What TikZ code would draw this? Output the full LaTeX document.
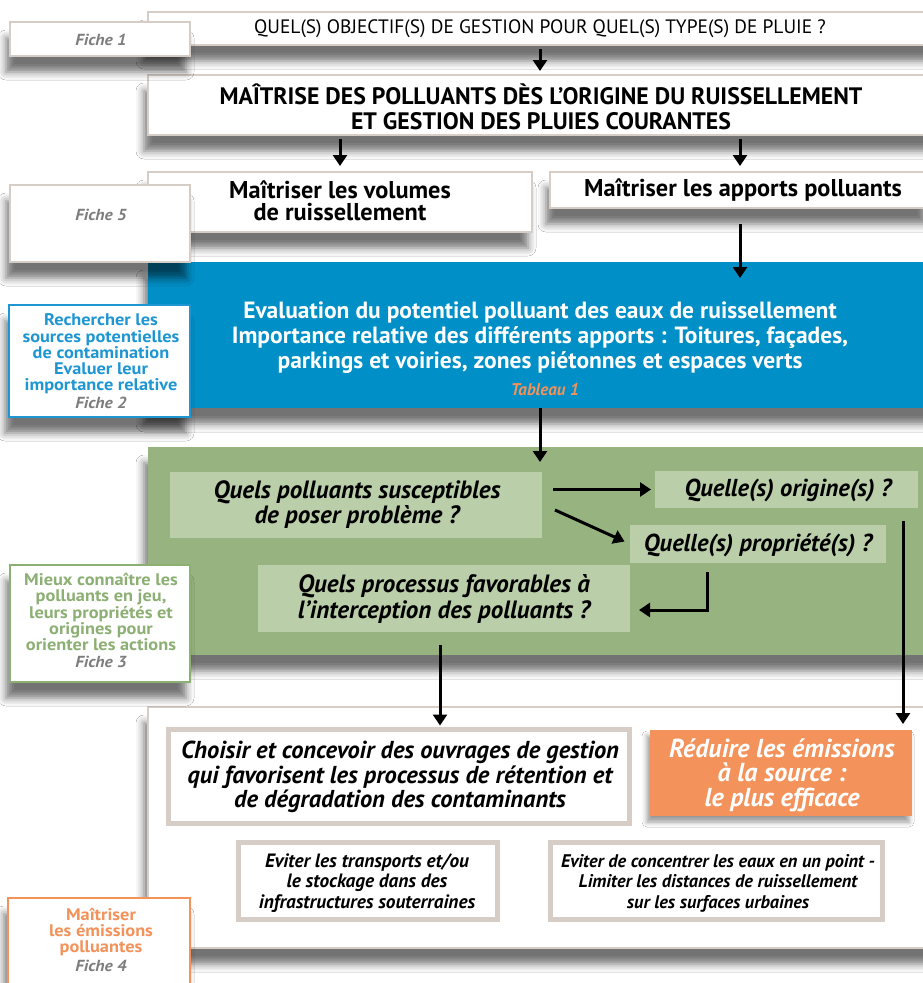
\documentclass[tikz,border=0pt]{standalone}
\usepackage{fontspec}
\setmainfont{PT Sans}
\newfontfamily\din{PT Sans}
\newfontfamily\dinw{PT Sans}[FakeStretch=1.09]
\usetikzlibrary{arrows.meta,shadows.blur}
\definecolor{bblue}{RGB}{0,143,198}
\definecolor{ggreen}{RGB}{151,179,128}
\definecolor{lgreen}{RGB}{186,206,169}
\definecolor{oorange}{RGB}{243,146,90}
\definecolor{bord}{RGB}{214,206,198}
\definecolor{fgray}{RGB}{125,125,125}
\definecolor{fblue}{RGB}{30,150,210}
\definecolor{fgreen}{RGB}{140,175,115}
\tikzset{
  shad/.style={blur shadow={shadow xshift=-4pt, shadow yshift=-16pt, shadow blur radius=8pt, shadow opacity=55}},
  box/.style={anchor=north west, inner sep=0pt, outer sep=0pt},
  wbox/.style={box, draw=bord, line width=1.5pt, fill=white, shad},
  fiche/.style={box, line width=1.5pt, fill=white, shad},
  qbox/.style={box, fill=lgreen},
  tbox/.style={box, draw=bord, line width=5pt, fill=white},
  txt/.style={align=center, inner sep=0pt, font=\din},
  ftxt/.style={align=center, inner sep=0pt, font=\dinw\bfseries\fontsize{16.8}{16.2}\selectfont},
  fnum/.style={align=center, inner sep=0pt, text=fgray, font=\dinw\bfseries\itshape\fontsize{16}{16}\selectfont},
  arr/.style={line width=3pt, -{Triangle[width=14pt,length=11pt]}},
}
\begin{document}
\begin{tikzpicture}[x=1pt,y=-1pt]
\useasboundingbox[fill=white] (0,0) rectangle (923,983);
% main boxes
\node[wbox, minimum width=790pt, minimum height=33pt] (top) at (148,12) {};
\node[wbox, minimum width=790pt, minimum height=60pt] (box2) at (148,75) {};
\node[wbox, minimum width=384pt, minimum height=60pt] (box3a) at (148,172) {};
\node[wbox, minimum width=380pt, minimum height=36pt] (box3b) at (550,172) {};
\node[box, fill=bblue, shad, minimum width=790pt, minimum height=146pt] (blue) at (148,262) {};
\node[box, fill=ggreen, shad, minimum width=790pt, minimum height=208pt] (green) at (148,447) {};
\node[box, draw=bord, line width=1.5pt, fill=white, shad, minimum width=790pt, minimum height=241pt] (bottom) at (148,707) {};
% green inner boxes
\node[qbox, minimum width=372pt, minimum height=66pt] (q1) at (170,472) {};
\node[qbox, minimum width=263pt, minimum height=37pt] (q2) at (655,471) {};
\node[qbox, minimum width=256pt, minimum height=38pt] (q3) at (630,525) {};
\node[qbox, minimum width=372pt, minimum height=67pt] (q4) at (258,565) {};
% bottom inner boxes
\node[tbox, minimum width=461pt, minimum height=94pt] (choisir) at (168.5,729.5) {};
\node[box, fill=oorange, blur shadow={shadow xshift=-3pt, shadow yshift=-6pt, shadow blur radius=5pt, shadow opacity=40}, minimum width=262pt, minimum height=86pt] (orange) at (650,730) {};
\node[tbox, minimum width=259pt, minimum height=77pt] (ev1) at (238.5,842.5) {};
\node[tbox, minimum width=332pt, minimum height=77pt] (ev2) at (550.5,842.5) {};
% fiche boxes
\node[fiche, draw=bord, minimum width=180pt, minimum height=34pt] (f1) at (10,22) {};
\node[fiche, draw=bord, minimum width=180pt, minimum height=77pt] (f5) at (10,185) {};
\node[fiche, draw=fblue, minimum width=181pt, minimum height=112pt] (f2) at (9,305) {};
\node[fiche, draw=fgreen, minimum width=180pt, minimum height=117pt] (f3) at (10,565) {};
\node[fiche, draw=oorange, minimum width=182pt, minimum height=100pt] (f4) at (8,898) {};
% texts
\node[txt, font=\din\fontsize{19.4}{22}\selectfont] (ttop) at (540,29) {QUEL(S) OBJECTIF(S) DE GESTION POUR QUEL(S) TYPE(S) DE PLUIE ?};
\node[txt, font=\din\bfseries\fontsize{23.8}{25}\selectfont] (tbox2) at (541,107) {MAÎTRISE DES POLLUANTS DÈS L’ORIGINE DU RUISSELLEMENT\\ET GESTION DES PLUIES COURANTES};
\node[txt, font=\din\bfseries\fontsize{24.3}{22}\selectfont] (tbox3a) at (340,201) {Maîtriser les volumes\\de ruissellement};
\node[txt, font=\din\bfseries\fontsize{24.3}{22}\selectfont] (tbox3b) at (743,190) {Maîtriser les apports polluants};
\node[txt, text=white, font=\din\bfseries\fontsize{23.5}{25}\selectfont] (tblue) at (540,338) {Evaluation du potentiel polluant des eaux de ruissellement\\Importance relative des différents apports : Toitures, façades,\\parkings et voiries, zones piétonnes et espaces verts};
\node[txt, text=oorange, font=\din\bfseries\itshape\fontsize{17}{18}\selectfont] (ttab) at (545,390) {Tableau 1};
\node[txt, font=\din\bfseries\itshape\fontsize{25}{25}\selectfont] (tq1) at (357,505) {Quels polluants susceptibles\\de poser problème ?};
\node[txt, font=\din\bfseries\itshape\fontsize{24.5}{25}\selectfont] (tq2) at (788,490) {Quelle(s) origine(s) ?};
\node[txt, font=\din\bfseries\itshape\fontsize{24.5}{25}\selectfont] (tq3) at (758,545) {Quelle(s) propriété(s) ?};
\node[txt, font=\din\bfseries\itshape\fontsize{25}{26}\selectfont] (tq4) at (444,599) {Quels processus favorables à\\l’interception des polluants ?};
\node[txt, font=\din\bfseries\itshape\fontsize{24.5}{24.5}\selectfont] (tch) at (400,777) {Choisir et concevoir des ouvrages de gestion\\qui favorisent les processus de rétention et\\de dégradation des contaminants};
\node[txt, text=white, font=\din\bfseries\itshape\fontsize{26}{24.5}\selectfont] (tor) at (782,775) {Réduire les émissions\\à la source :\\le plus efficace};
\node[txt, font=\din\bfseries\itshape\fontsize{19.3}{20.5}\selectfont] (tev1) at (367,883) {Eviter les transports et/ou\\le stockage dans des\\infrastructures souterraines};
\node[txt, font=\din\bfseries\itshape\fontsize{18.3}{20.5}\selectfont] (tev2) at (718,883) {Eviter de concentrer les eaux en un point -\\Limiter les distances de ruissellement\\sur les surfaces urbaines};
% fiche texts
\node[fnum] (tf1) at (101,40) {Fiche 1};
\node[fnum] (tf5) at (101,215) {Fiche 5};
\node[ftxt, text=fblue] (tf2) at (101,354) {Rechercher les\\sources potentielles\\de contamination\\Evaluer leur\\importance relative};
\node[fnum] (tf2b) at (101,403) {Fiche 2};
\node[ftxt, text=fgreen] (tf3) at (101,612) {Mieux connaître les\\polluants en jeu,\\leurs propriétés et\\origines pour\\orienter les actions};
\node[fnum] (tf3b) at (101,662) {Fiche 3};
\node[ftxt, text=oorange] (tf4) at (101,932) {Maîtriser\\les émissions\\polluantes};
\node[fnum] (tf4b) at (101,966) {Fiche 4};
% arrows
\coordinate (x540) at (540,0);
\coordinate (x340) at (340,0);
\coordinate (x740) at (740,0);
\draw[arr, shorten <=4pt, shorten >=4pt] (top.south -| x540) -- (box2.north -| x540);
\draw[arr, shorten <=4pt, shorten >=6pt] (box2.south -| x340) -- (box3a.north -| x340);
\draw[arr, shorten <=4pt, shorten >=6pt] (box2.south -| x740) -- (box3b.north -| x740);
\draw[arr, shorten <=16pt, shorten >=-16pt] (box3b.south -| x740) -- (blue.north -| x740);
\draw[arr, shorten >=-15pt] (blue.south -| x540) -- (green.north -| x540);
\draw[arr, shorten <=11pt, shorten >=4pt] (q1.east |- q2.west) -- (q2.west);
\draw[arr, shorten >=6pt] ([xshift=13pt,yshift=-5pt]q1.east) -- (q3.west);
\coordinate (elb) at (707,610);
\draw[arr, shorten <=9pt, shorten >=9pt] (q3.south -| elb) |- (q4.east |- elb);
\coordinate (c1) at (440,0);
\draw[arr, shorten <=13pt, shorten >=4pt] (q4.south -| c1) -- (choisir.north -| c1);
\coordinate (c2) at (903,0);
\draw[arr, shorten <=13pt, shorten >=6pt] (q2.south -| c2) -- (orange.north -| c2);
\end{tikzpicture}
\end{document}
